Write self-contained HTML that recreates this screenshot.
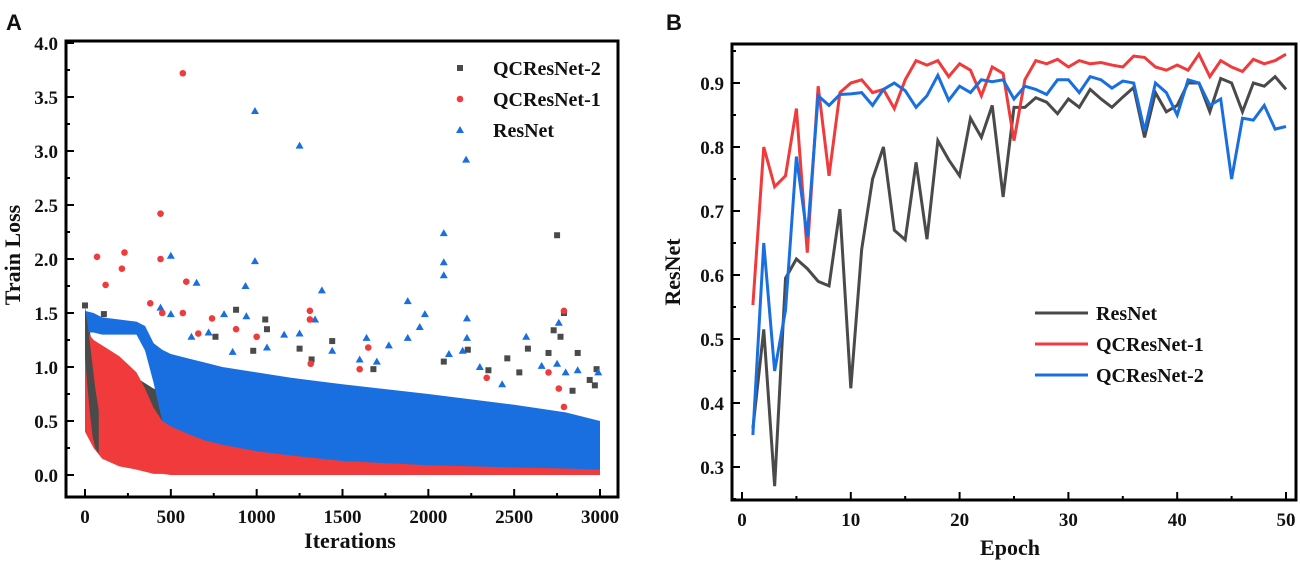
<!DOCTYPE html>
<html><head><meta charset="utf-8"><style>
body{margin:0;background:#fff;width:1300px;height:564px;overflow:hidden}
svg text{font-family:"Liberation Serif",serif;font-weight:bold;fill:#111}
</style></head><body>
<svg id="svg" width="1300" height="564" viewBox="0 0 1300 564" xmlns="http://www.w3.org/2000/svg">
<g id="gA"></g>
<g id="gB"></g>
</svg>
<script>
// ---------- Panel A data ----------
const aBandIter = [0,50,100,200,300,350,400,450,500,600,700,800,1000,1200,1500,2000,2500,2800,3000];
const blueUpper = [1.52,1.5,1.46,1.44,1.42,1.38,1.22,1.16,1.12,1.08,1.04,1.0,0.95,0.9,0.84,0.75,0.65,0.58,0.5];
const blueLower = [1.32,1.32,1.3,1.3,1.3,1.15,0.85,0.5,0.35,0.22,0.18,0.15,0.12,0.1,0.08,0.06,0.05,0.04,0.03];
const redUpper  = [1.35,1.25,1.2,1.1,0.95,0.8,0.62,0.5,0.45,0.38,0.32,0.28,0.22,0.18,0.13,0.09,0.07,0.06,0.05];
const redLower  = [0.4,0.25,0.15,0.08,0.05,0.03,0.01,0.01,0,0,0,0,0,0,0,0,0,0,0];
const grayUpper = [1.55,1.15,1.0,0.95,0.9,0.85,0.8,0.78,0.75,0.7,0.65,0.6,0.55,0.5,0.45,0.4,0.35,0.33,0.3];
const grayLower = [1.2,0.5,0.25,0.15,0.08,0.05,0.04,0.03,0.03,0.02,0.02,0.02,0.02,0.02,0.02,0.02,0.02,0.02,0.02];
const grayEarlyIter = [0,15,30,45,60,80];
const grayEarlyUpper = [1.55,1.4,1.2,1.0,0.8,0.6];
const grayEarlyLower = [1.1,0.8,0.55,0.35,0.25,0.2];
const blueIter = [990,1250,2220,2090,2090,2090,990,500,650,935,1380,1880,1980,2225,2760,440,500,810,940,1340,1950,620,720,1250,1640,1880,2570,2225,1160,1770,2200,2120,1440,1600,2300,2750,2870,2990,2660,1700,1060,860,2430,2800];
const blueLoss = [3.37,3.05,2.92,2.24,1.97,1.85,1.98,2.03,1.78,1.75,1.71,1.61,1.49,1.45,1.41,1.55,1.49,1.49,1.47,1.44,1.37,1.28,1.32,1.31,1.27,1.27,1.28,1.27,1.3,1.2,1.15,1.12,1.15,1.07,1.0,1.03,0.97,0.95,1.01,1.05,1.18,1.14,0.84,0.95];
const redIter = [570,440,440,70,230,215,120,590,380,450,570,740,1310,1310,2790,660,880,1000,1650,2700,1600,1315,2760,2790,2340];
const redLoss = [3.72,2.42,2.0,2.02,2.06,1.91,1.76,1.79,1.59,1.5,1.5,1.45,1.52,1.44,1.52,1.31,1.35,1.28,1.18,0.95,0.98,1.03,0.8,0.63,0.9];
const grayIter = [2750,0,880,110,1050,2790,2730,1060,1440,2580,2230,2870,2460,2090,1320,2700,2770,2980,1680,760,980,1250,2350,2530,2940,2840,2970];
const grayLoss = [2.22,1.57,1.53,1.49,1.44,1.5,1.34,1.35,1.24,1.17,1.16,1.13,1.08,1.05,1.07,1.13,1.28,0.98,0.98,1.28,1.15,1.17,0.97,0.95,0.88,0.78,0.83];
const aXTicks = [0,500,1000,1500,2000,2500,3000];
const aYTicks = [0,0.5,1.0,1.5,2.0,2.5,3.0,3.5,4.0];
// ---------- Panel B data ----------
const epochs = Array.from({length:50},(_,i)=>i+1);
const resnet = [0.36,0.515,0.27,0.595,0.625,0.61,0.59,0.583,0.703,0.423,0.64,0.75,0.80,0.67,0.655,0.776,0.656,0.81,0.78,0.755,0.845,0.815,0.865,0.722,0.862,0.862,0.877,0.87,0.852,0.875,0.862,0.89,0.875,0.862,0.878,0.893,0.815,0.885,0.855,0.865,0.9,0.9,0.855,0.907,0.9,0.855,0.9,0.895,0.91,0.89];
const qc1 = [0.553,0.80,0.738,0.755,0.86,0.635,0.895,0.755,0.885,0.90,0.905,0.885,0.89,0.86,0.905,0.935,0.928,0.935,0.91,0.93,0.92,0.88,0.925,0.915,0.81,0.905,0.935,0.93,0.937,0.925,0.935,0.93,0.932,0.928,0.925,0.942,0.94,0.925,0.92,0.928,0.92,0.945,0.91,0.935,0.925,0.918,0.937,0.93,0.935,0.945];
const qc2 = [0.35,0.65,0.45,0.545,0.785,0.66,0.88,0.865,0.882,0.883,0.885,0.865,0.89,0.9,0.888,0.862,0.88,0.912,0.873,0.895,0.885,0.905,0.902,0.905,0.875,0.895,0.89,0.882,0.905,0.905,0.885,0.91,0.905,0.892,0.903,0.9,0.825,0.9,0.885,0.85,0.905,0.9,0.865,0.875,0.75,0.845,0.842,0.865,0.828,0.832];
const bXTicks = [0,10,20,30,40,50];
const bYTicks = [0.3,0.4,0.5,0.6,0.7,0.8,0.9];

const NS='http://www.w3.org/2000/svg';
function mk(parent,tag,attrs,text){const e=document.createElementNS(NS,tag);for(const k in attrs)e.setAttribute(k,attrs[k]);if(text!==undefined)e.textContent=text;parent.appendChild(e);return e;}
const C={gray:'#4a4a4a',red:'#f03a3c',blue:'#1a6fe0'};

// ---------- Panel A ----------
const gA=document.getElementById('gA');
const ax=v=>85+v*(600-85)/3000, ay=v=>475-v*108;
let t=mk(gA,'text',{x:6,y:30,'font-size':22,style:'font-family:"Liberation Sans",sans-serif'},'A');


function band(its,up,lo,col,name){
  let d='M'+its.map((it,i)=>ax(it)+','+ay(up[i])).join(' L');
  for(let i=its.length-1;i>=0;i--)d+=' L'+ax(its[i])+','+ay(lo[i]);
  const p=mk(gA,'path',{d:d+'Z',fill:col});
  
  
}
function pts(xs,ys,col,shape,name){
  xs.forEach((it,i)=>{
    const x=ax(it),y=ay(ys[i]);let e;
    if(shape==='sq')e=mk(gA,'rect',{x:x-3,y:y-3,width:6,height:6,fill:col});
    else if(shape==='c')e=mk(gA,'circle',{cx:x,cy:y,r:3.3,fill:col});
    else e=mk(gA,'path',{d:`M${x},${y-4} L${x+4},${y+3} L${x-4},${y+3}Z`,fill:col});
    
    
  });
}
band(aBandIter,grayUpper,grayLower,C.gray,'qcresnet2-dense-band');
pts(grayIter,grayLoss,C.gray,'sq','qcresnet2-point');
band(aBandIter,blueUpper,blueLower,C.blue,'resnet-dense-band');
pts(blueIter,blueLoss,C.blue,'tri','resnet-point');
band(aBandIter,redUpper,redLower,C.red,'qcresnet1-dense-band');
band(grayEarlyIter,grayEarlyUpper,grayEarlyLower,C.gray,'qcresnet2-early-band');
pts(redIter,redLoss,C.red,'c','qcresnet1-point');
let fr=mk(gA,'rect',{x:66,y:41,width:552,height:456,fill:'none',stroke:'#000','stroke-width':3});


aXTicks.forEach(v=>{mk(gA,'line',{x1:ax(v),x2:ax(v),y1:497,y2:489,stroke:'#000','stroke-width':2});
  const l=mk(gA,'text',{x:ax(v),y:523,'font-size':19,'text-anchor':'middle'},v);
  
  
  if(v<3000)mk(gA,'line',{x1:ax(v+250),x2:ax(v+250),y1:497,y2:493,stroke:'#000','stroke-width':2});});
aYTicks.forEach(v=>{mk(gA,'line',{x1:66,x2:74,y1:ay(v),y2:ay(v),stroke:'#000','stroke-width':2});
  const l=mk(gA,'text',{x:58,y:ay(v)+7,'font-size':19,'text-anchor':'end'},v.toFixed(1));
  
  
  if(v<4)mk(gA,'line',{x1:66,x2:70,y1:ay(v+0.25),y2:ay(v+0.25),stroke:'#000','stroke-width':2});});
t=mk(gA,'text',{x:350,y:548,'font-size':22,'text-anchor':'middle'},'Iterations');


t=mk(gA,'text',{x:0,y:0,'font-size':22,'text-anchor':'middle',transform:'translate(20,255) rotate(-90)'},'Train Loss');


const legA=[['QCResNet-2',C.gray,'sq'],['QCResNet-1',C.red,'c'],['ResNet',C.blue,'tri']];
legA.forEach((L,i)=>{const y=68+i*31;
  const g=mk(gA,'g',{});
  
  
  const x=460;
  if(L[2]==='sq')mk(g,'rect',{x:x-3,y:y-3,width:6,height:6,fill:L[1]});
  else if(L[2]==='c')mk(g,'circle',{cx:x,cy:y,r:3.3,fill:L[1]});
  else mk(g,'path',{d:`M${x},${y-4} L${x+4},${y+3} L${x-4},${y+3}Z`,fill:L[1]});
  mk(g,'text',{x:493,y:y+7,'font-size':20},L[0]);});

// ---------- Panel B ----------
const gB=document.getElementById('gB');
const bx=v=>742+v*10.88, by=v=>83-(v-0.9)*640;
t=mk(gB,'text',{x:666,y:30,'font-size':22,style:'font-family:"Liberation Sans",sans-serif'},'B');


[[resnet,C.gray,'resnet-line'],[qc1,C.red,'qcresnet1-line'],[qc2,C.blue,'qcresnet2-line']].forEach(s=>{
  const p=mk(gB,'polyline',{points:epochs.map((e,i)=>bx(e)+','+by(s[0][i])).join(' '),fill:'none',stroke:s[1],'stroke-width':3,'stroke-linejoin':'miter'});
  
  
});
fr=mk(gB,'rect',{x:732,y:44,width:564,height:456,fill:'none',stroke:'#000','stroke-width':3});


bXTicks.forEach(v=>{mk(gB,'line',{x1:bx(v),x2:bx(v),y1:500,y2:492,stroke:'#000','stroke-width':2});
  const l=mk(gB,'text',{x:bx(v),y:526,'font-size':19,'text-anchor':'middle'},v);
  
  
  if(v<50)mk(gB,'line',{x1:bx(v+5),x2:bx(v+5),y1:500,y2:496,stroke:'#000','stroke-width':2});});
bYTicks.forEach(v=>{mk(gB,'line',{x1:732,x2:740,y1:by(v),y2:by(v),stroke:'#000','stroke-width':2});
  const l=mk(gB,'text',{x:724,y:by(v)+7,'font-size':19,'text-anchor':'end'},v.toFixed(1));
  
  
  mk(gB,'line',{x1:732,x2:736,y1:by(v+0.05),y2:by(v+0.05),stroke:'#000','stroke-width':2});});
mk(gB,'line',{x1:732,x2:736,y1:by(0.25),y2:by(0.25),stroke:'#000','stroke-width':2});
t=mk(gB,'text',{x:1010,y:555,'font-size':22,'text-anchor':'middle'},'Epoch');


t=mk(gB,'text',{x:0,y:0,'font-size':22,'text-anchor':'middle',transform:'translate(680,272) rotate(-90)'},'ResNet');


const legB=[['ResNet',C.gray],['QCResNet-1',C.red],['QCResNet-2',C.blue]];
legB.forEach((L,i)=>{const y=313+i*31;
  const g=mk(gB,'g',{});
  
  
  mk(g,'line',{x1:1035,x2:1088,y1:y,y2:y,stroke:L[1],'stroke-width':3});
  mk(g,'text',{x:1096,y:y+7,'font-size':20},L[0]);});
</script>
</body></html>
